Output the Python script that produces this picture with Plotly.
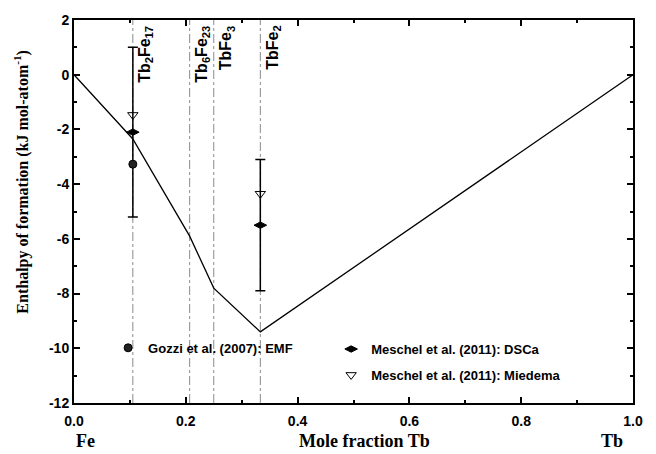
import plotly.graph_objects as go

# Line (calculated enthalpy of formation)
line_x = [0.0, 2/19, 6/29, 0.25, 1/3, 1.0]
line_y = [0.0, -2.35, -5.9, -7.8, -9.4, 0.0]

# Compounds (vertical reference lines)
comp_x = [2/19, 6/29, 0.25, 1/3]
comp_names = ["Tb<sub>2</sub>Fe<sub>17</sub>", "Tb<sub>6</sub>Fe<sub>23</sub>", "TbFe<sub>3</sub>", "TbFe<sub>2</sub>"]

# Experimental / estimated data
gozzi_x = [2/19]
gozzi_y = [-3.27]
dsc_x = [2/19, 1/3]
dsc_y = [-2.1, -5.5]
dsc_err = [3.1, 2.4]
mied_x = [2/19, 1/3]
mied_y = [-1.47, -4.35]

xticks = [0, 0.2, 0.4, 0.6, 0.8, 1.0]
xticktext = ["0.0", "0.2", "0.4", "0.6", "0.8", "1.0"]
yticks = [2, 0, -2, -4, -6, -8, -10, -12]
yticktext = ["2", "0", "-2", "-4", "-6", "-8", "-10", "-12"]

SANS = "Liberation Sans, Arial, sans-serif"
SERIF = "Liberation Serif, Times New Roman, serif"

fig = go.Figure()

for cx in comp_x:
    fig.add_vline(x=cx, line=dict(color="#8a8a8a", width=1, dash="dashdot"), layer="below")

fig.add_trace(go.Scatter(x=line_x, y=line_y, mode="lines",
                         line=dict(color="black", width=1.3), showlegend=False, hoverinfo="skip"))

fig.add_trace(go.Scatter(x=dsc_x, y=dsc_y, mode="markers", name="Meschel et al. (2011): DSCa",
                         marker=dict(symbol="diamond-wide", size=9, color="black",
                                     line=dict(color="black", width=1)),
                         error_y=dict(type="data", array=dsc_err, visible=True, color="black",
                                      thickness=1.5, width=5),
                         legend="legend2", legendgroup="a"))
fig.add_trace(go.Scatter(x=mied_x, y=mied_y, mode="markers", name="Meschel et al. (2011): Miedema",
                         marker=dict(symbol="triangle-down-open", size=9, color="black",
                                     line=dict(color="black", width=1)),
                         legend="legend2", legendgroup="b"))
fig.add_trace(go.Scatter(x=gozzi_x, y=gozzi_y, mode="markers", name="Gozzi et al. (2007): EMF",
                         marker=dict(symbol="circle", size=8, color="#222",
                                     line=dict(color="black", width=1)),
                         legend="legend"))

for cx, nm in zip(comp_x, comp_names):
    fig.add_annotation(x=cx, y=1, xref="x", yref="paper", text="<b>" + nm + "</b>", textangle=-90,
                       showarrow=False, xanchor="left", yanchor="top", xshift=1, yshift=-4,
                       font=dict(family=SANS, size=16, color="black"))

# axis titles & end labels
fig.add_annotation(x=0.52, y=-0.098, xref="paper", yref="paper", text="<b>Mole fraction Tb</b>",
                   showarrow=False, yanchor="middle", font=dict(family=SERIF, size=18, color="black"))
fig.add_annotation(x=0, y=-0.098, xref="paper", yref="paper", text="<b>Fe</b>",
                   showarrow=False, yanchor="middle", font=dict(family=SERIF, size=18, color="black"))
fig.add_annotation(x=0.985, y=-0.098, xref="paper", yref="paper", text="<b>Tb</b>",
                   showarrow=False, yanchor="middle", font=dict(family=SERIF, size=18, color="black"))
fig.add_annotation(x=-0.093, y=0.578, xref="paper", yref="paper",
                   text="<b>Enthalpy of formation (kJ mol-atom<sup>-1</sup>)</b>", textangle=-90,
                   showarrow=False, xanchor="center", yanchor="middle",
                   font=dict(family=SERIF, size=16, color="black"))

axis_common = dict(showline=True, linecolor="black", linewidth=2, mirror="allticks",
                   ticks="inside", ticklen=6, tickwidth=1.5, tickcolor="black",
                   showgrid=False, zeroline=False,
                   tickfont=dict(family=SANS, size=14, color="black", weight="bold"))

fig.update_xaxes(range=[0, 1], tickvals=xticks, ticktext=xticktext, ticklabelstandoff=4,
                 minor=dict(ticks="inside", ticklen=3, dtick=0.1, tickcolor="black", showgrid=False),
                 **axis_common)
fig.update_yaxes(range=[-12, 2], tickvals=yticks, ticktext=yticktext,
                 minor=dict(ticks="inside", ticklen=3, dtick=1, tickcolor="black", showgrid=False),
                 **axis_common)

fig.update_layout(
    width=656, height=454,
    margin=dict(l=74, r=23, t=14, b=51),
    paper_bgcolor="white", plot_bgcolor="white",
    font=dict(family=SANS, color="black"),
    legend=dict(x=0.061, y=0.144, xanchor="left", yanchor="middle", bgcolor="rgba(0,0,0,0)",
                font=dict(family=SANS, size=13, color="black", weight="bold"),
                itemwidth=30),
    legend2=dict(x=0.46, y=0.18, xanchor="left", yanchor="top", bgcolor="rgba(0,0,0,0)",
                 font=dict(family=SANS, size=13, color="black", weight="bold"),
                 traceorder="grouped", tracegroupgap=6, itemwidth=30),
)

fig.write_html("out.html")
